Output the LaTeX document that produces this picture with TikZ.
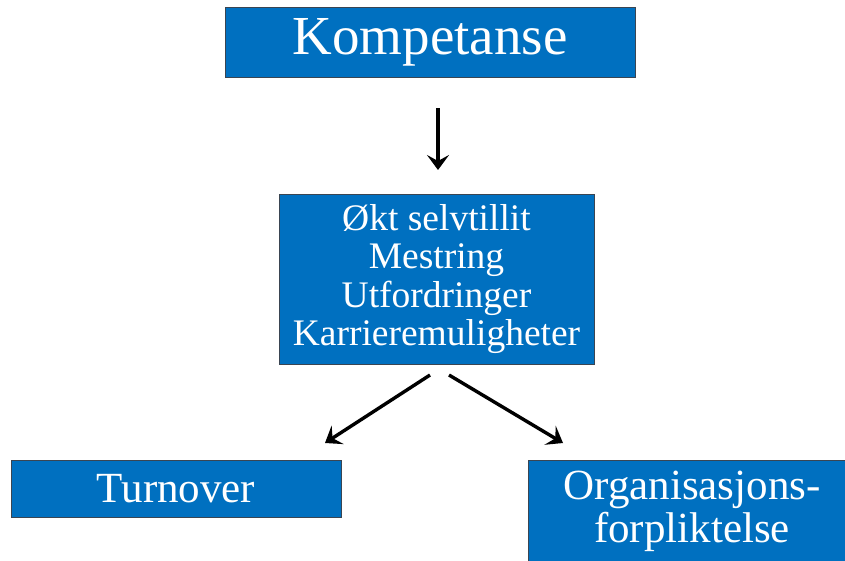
\documentclass[tikz,border=0pt]{standalone}
\usepackage{fontspec}
\setmainfont{Liberation Serif}
\usetikzlibrary{arrows.meta}
\definecolor{boxblue}{HTML}{0070C0}
\definecolor{boxedge}{HTML}{3A4552}
\tikzset{
  bluebox/.style={draw=boxedge, line width=1pt, fill=boxblue, text=white,
    align=center, inner sep=0pt, anchor=center},
  arr/.style={line width=3.4pt, -{Stealth[length=15pt,width=22pt,inset=6pt]}}
}
\begin{document}
\begin{tikzpicture}[x=1pt,y=-1pt]
\useasboundingbox (0,0) rectangle (845,560);
\clip (0,0) rectangle (845,560);

\node[bluebox, minimum width=410pt, minimum height=70pt,
      font=\fontsize{55}{55}\selectfont] (komp) at (430,42) {\raisebox{-2pt}{Kompetanse}};

\node[bluebox, minimum width=315pt, minimum height=170pt,
      font=\fontsize{37.5}{38.5}\selectfont] (mid) at (436.5,279)
  {Økt selvtillit\\Mestring\\Utfordringer\\Karrieremuligheter};

\node[bluebox, minimum width=330pt, minimum height=57pt,
      font=\fontsize{43}{43}\selectfont] (turn) at (176,488.5) {Turnover};

\node[bluebox, minimum width=328pt, minimum height=103pt,
      font=\fontsize{43}{43}\selectfont] (org) at (692,511.5)
  {Organisasjons-\\forpliktelse};

% arrow end points between the boxes
\coordinate (a1s) at (438,108);
\coordinate (a1e) at (438,170);
\coordinate (a2s) at (430,375);
\coordinate (a2e) at (325,443);
\coordinate (a3s) at (449,375);
\coordinate (a3e) at (563,443);

\draw[arr] (a1s) -- (a1e);
\draw[arr] (a2s) -- (a2e);
\draw[arr] (a3s) -- (a3e);
\end{tikzpicture}
\end{document}
